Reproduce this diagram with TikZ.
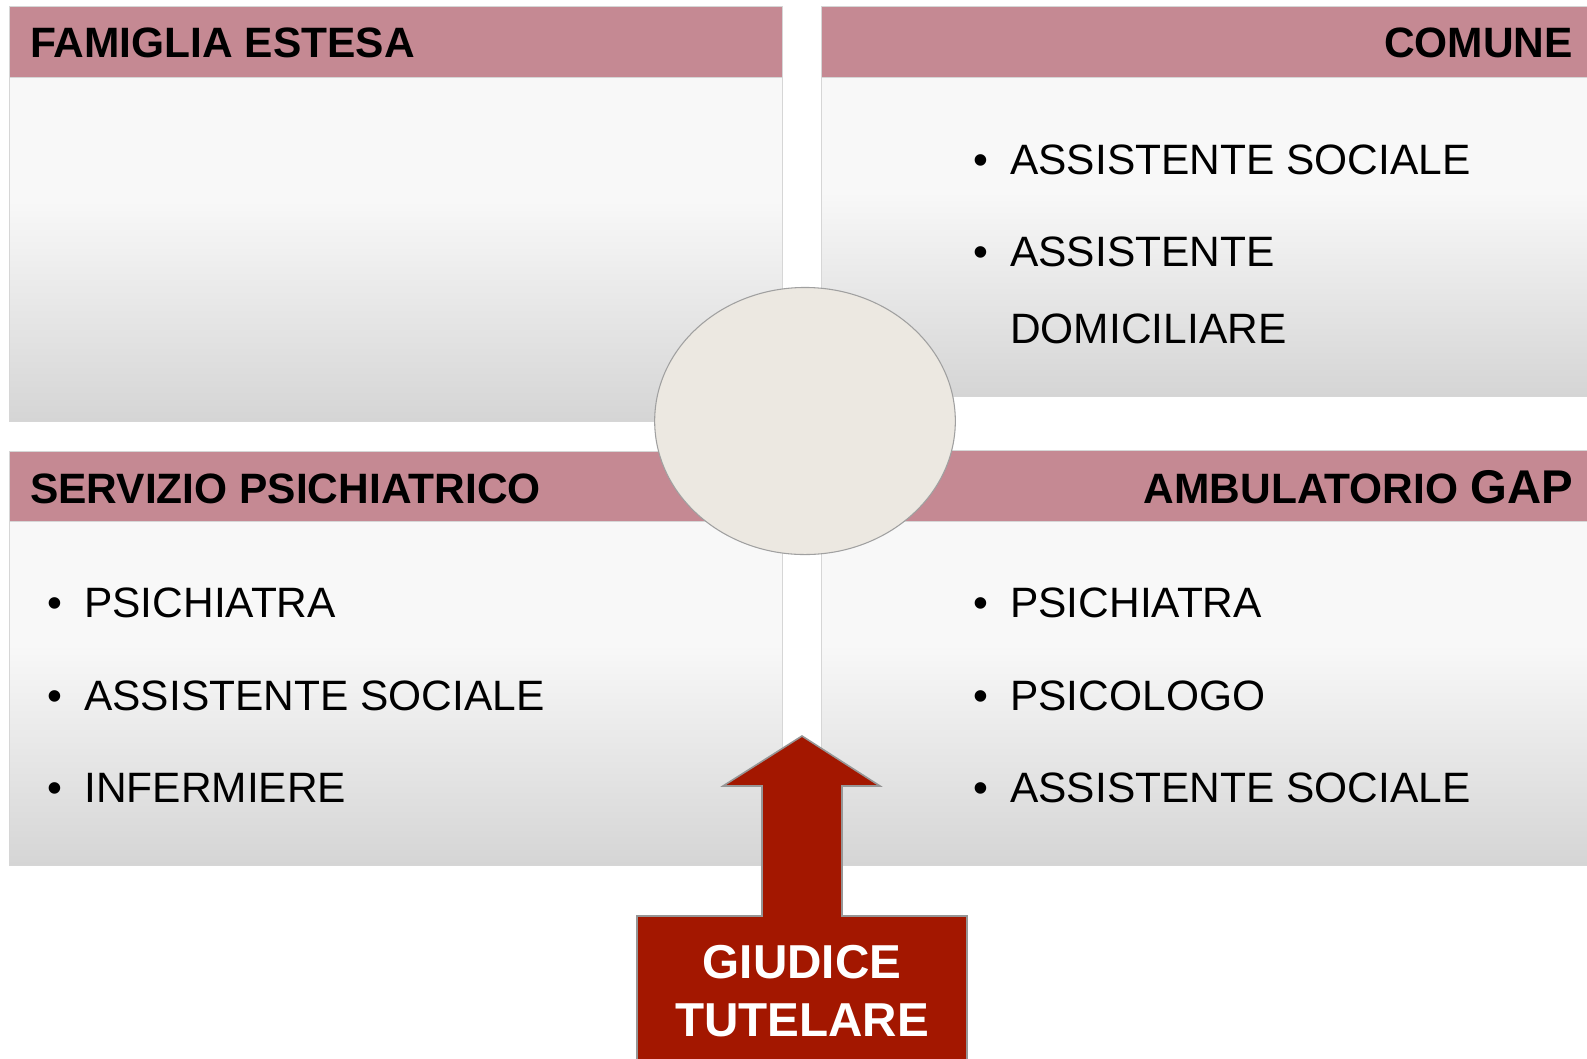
\documentclass[tikz,border=0pt]{standalone}
\usepackage{fontspec}
\setmainfont{Liberation Sans}
\usetikzlibrary{shapes.geometric}
\definecolor{hdr}{RGB}{197,137,147}
\definecolor{bgtop}{RGB}{248,248,248}
\definecolor{bgbot}{RGB}{213,213,213}
\definecolor{edge}{RGB}{214,214,214}
\definecolor{ellfill}{RGB}{236,232,225}
\definecolor{ellline}{RGB}{160,160,160}
\definecolor{arrowred}{RGB}{163,23,0}
\definecolor{arrowline}{RGB}{150,150,150}
\pgfdeclareverticalshading{boxshade}{100bp}{color(0bp)=(bgbot); color(25bp)=(bgbot); color(57bp)=(bgtop); color(100bp)=(bgtop)}
\begin{document}
\begin{tikzpicture}[x=0.75pt,y=-0.75pt,
  bodybox/.style={draw=edge, line width=0.6pt, shading=boxshade},
  hdrbox/.style={fill=hdr, draw=edge, line width=0.6pt},
  hdrtext/.style={font=\fontsize{31.85}{36}\selectfont\bfseries, inner sep=0pt},
  itemtext/.style={font=\fontsize{31.85}{36}\selectfont, inner sep=0pt, anchor=base west},
  bul/.style={font=\fontsize{31.85}{36}\selectfont, inner sep=0pt, anchor=base west}]
\useasboundingbox (0,0) rectangle (1587,1058);
\fill[white] (0,0) rectangle (1587,1058);

% top-left box
\path[bodybox] (9,77) rectangle (782,421);
\path[hdrbox] (9,6) rectangle (782,77);
% top-right box
\path[bodybox] (821,77) rectangle (1590,396);
\path[hdrbox] (821,6) rectangle (1590,77);
% bottom-left box
\path[bodybox] (9,521) rectangle (782,865);
\path[hdrbox] (9,451) rectangle (782,521);
% bottom-right box
\path[bodybox] (821,521) rectangle (1590,865);
\path[hdrbox] (821,450) rectangle (1590,521);

% headers
\node[hdrtext, anchor=base west] (famiglia) at (30,57) {FAMIGLIA ESTESA};
\node[hdrtext, anchor=base east] (comune) at (1573,57) {COMUNE};
\node[hdrtext, anchor=base west] (servizio) at (30,503) {SERVIZIO PSICHIATRICO};
\node[hdrtext, anchor=base east] (ambulatorio) at (1573,503) {AMBULATORIO {\fontsize{35.5}{40}\selectfont GAP}};

% Comune list
\node[bul] (cb1) at (973,174) {•};
\node[itemtext] (c1) at (1010,174) {ASSISTENTE SOCIALE};
\node[bul] (cb2) at (973,266) {•};
\node[itemtext] (c2) at (1010,266) {ASSISTENTE};
\node[itemtext] (c3) at (1010,343) {DOMICILIARE};

% Servizio list
\node[bul] (sb1) at (47,617) {•};
\node[itemtext] (s1) at (84,617) {PSICHIATRA};
\node[bul] (sb2) at (47,710) {•};
\node[itemtext] (s2) at (84,710) {ASSISTENTE SOCIALE};
\node[bul] (sb3) at (47,802) {•};
\node[itemtext] (s3) at (84,802) {INFERMIERE};

% Ambulatorio list
\node[bul] (ab1) at (973,617) {•};
\node[itemtext] (a1) at (1010,617) {PSICHIATRA};
\node[bul] (ab2) at (973,710) {•};
\node[itemtext] (a2) at (1010,710) {PSICOLOGO};
\node[bul] (ab3) at (973,802) {•};
\node[itemtext] (a3) at (1010,802) {ASSISTENTE SOCIALE};

% central ellipse
\node[ellipse, draw=ellline, line width=0.8pt, fill=ellfill, inner sep=0pt,
      minimum width=225.5pt, minimum height=200.3pt] (centre) at (805,421) {};

% arrow with box
\draw[fill=arrowred, draw=arrowline, line width=1.2pt]
  (637,1062) -- (637,916) -- (762,916) -- (762,786) -- (723,786) -- (802,736)
  -- (880,786) -- (842,786) -- (842,916) -- (967,916) -- (967,1062);
\node[font=\fontsize{35.7}{43}\selectfont\bfseries, text=white, align=center, inner sep=0pt]
  (giudice) at (802,991) {GIUDICE\\TUTELARE};
\end{tikzpicture}
\end{document}
